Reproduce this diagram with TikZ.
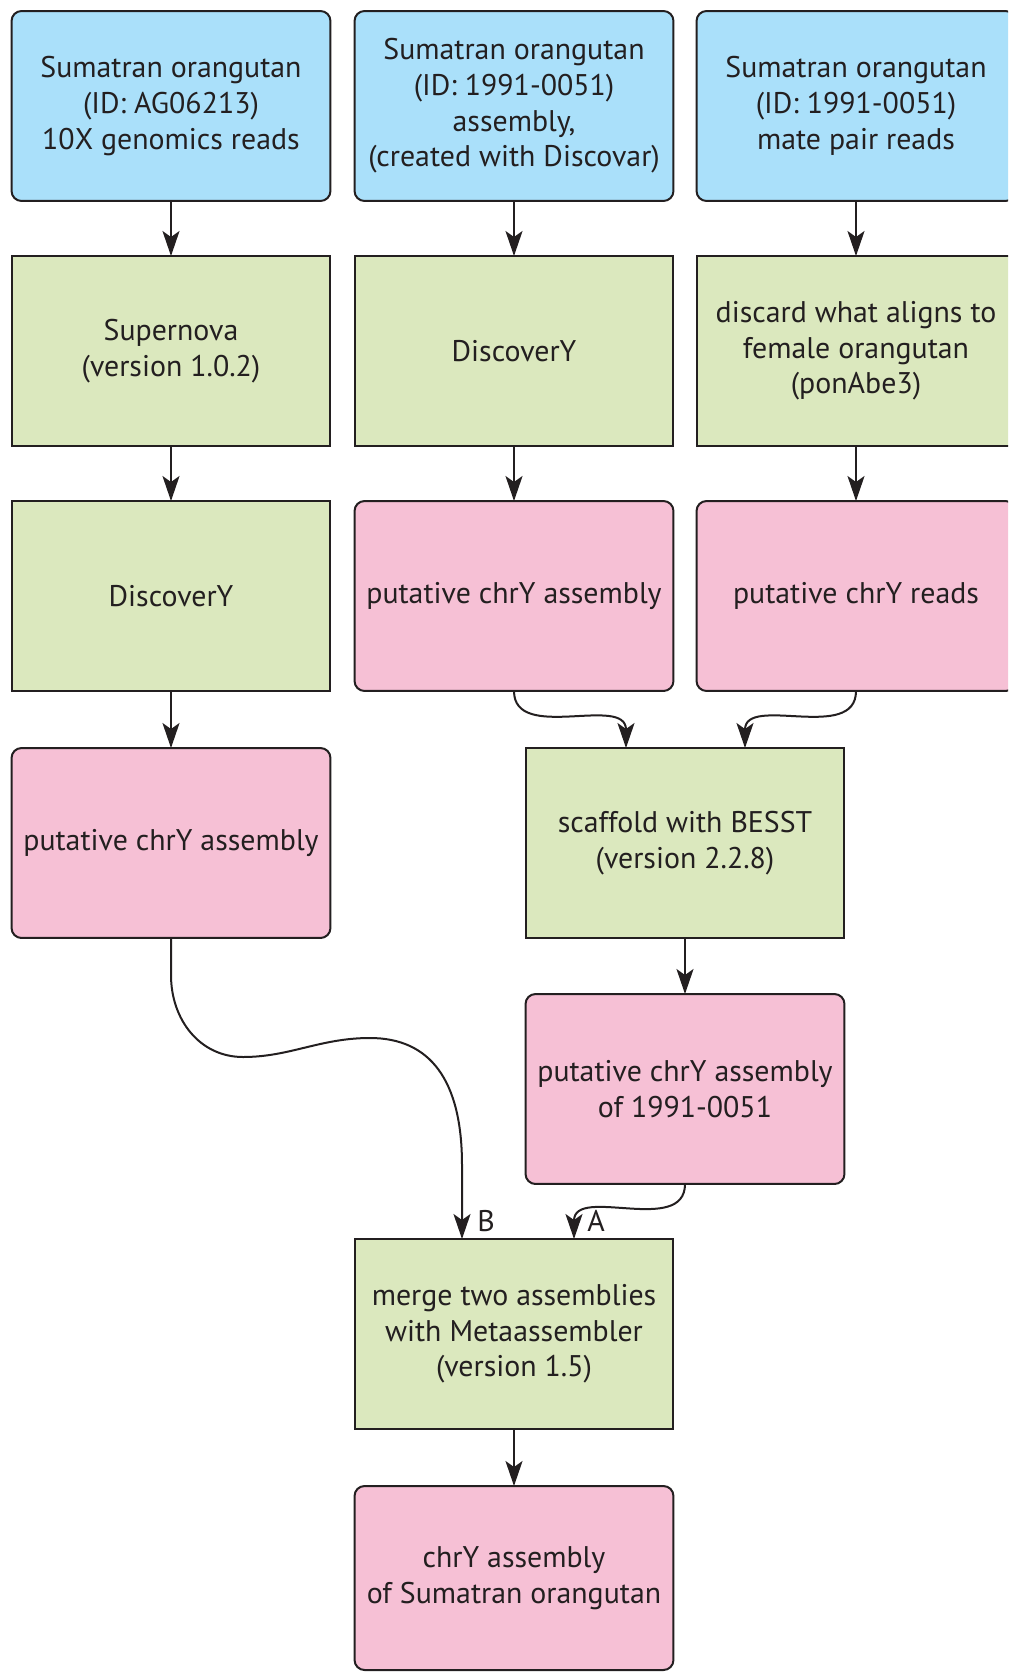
\documentclass[tikz,border=0pt]{standalone}
\usepackage{fontspec}
\setmainfont{PT Sans}
\usepackage{xcolor}
\usetikzlibrary{arrows.meta, calc}

\definecolor{inblue}{RGB}{170,224,250}
\definecolor{stepgreen}{RGB}{219,232,190}
\definecolor{resultpink}{RGB}{246,192,213}
\definecolor{inkblack}{RGB}{35,31,32}

\begin{document}
\begin{tikzpicture}[
  x=0.02cm, y=-0.02cm,
  every node/.style={font=\fontsize{17}{20.3}\selectfont, text=inkblack, align=center},
  box/.style={draw=inkblack, line width=0.04cm, minimum width=6.38cm, minimum height=3.8cm, inner sep=2pt, outer sep=0pt},
  inbox/.style={box, fill=inblue, rounded corners=0.2cm},
  toolbox/.style={box, fill=stepgreen},
  outbox/.style={box, fill=resultpink, rounded corners=0.2cm},
  flow/.style={draw=inkblack, line width=0.04cm, -{Stealth[length=0.5cm, width=0.34cm, inset=0.12cm]}}
]
\useasboundingbox (0,0) rectangle (1008,1673);
\clip (0,0) rectangle (1008,1673);
% input data
\node[inbox] (in1) at (171,106) {Sumatran orangutan\\(ID: AG06213)\\10X genomics reads};
\node[inbox] (in2) at (514,106) {Sumatran orangutan\\(ID: 1991-0051)\\assembly,\\(created with Discovar)};
\node[inbox] (in3) at (856,106) {Sumatran orangutan\\(ID: 1991-0051)\\mate pair reads};
% tools and results
\node[toolbox] (sn) at (171,351) {Supernova\\(version 1.0.2)};
\node[toolbox] (dy2) at (514,351) {DiscoverY};
\node[toolbox] (dc) at (856,351) {discard what aligns to\\female orangutan\\(ponAbe3)};
\node[toolbox] (dy1) at (171,596) {DiscoverY};
\node[outbox] (pa2) at (514,596) {putative chrY assembly};
\node[outbox] (pr) at (856,596) {putative chrY reads};
\node[outbox] (pa1) at (171,843) {putative chrY assembly};
\node[toolbox] (bs) at (685,843) {scaffold with BESST\\(version 2.2.8)};
\node[outbox] (pa3) at (685,1089) {putative chrY assembly\\of 1991-0051};
\node[toolbox] (ma) at (514,1334) {merge two assemblies\\with Metaassembler\\(version 1.5)};
\node[outbox, minimum height=3.68cm] (fin) at (514,1578) {chrY assembly\\of Sumatran orangutan};

\foreach \a/\b in {in1/sn, sn/dy1, dy1/pa1, in2/dy2, dy2/pa2, in3/dc, dc/pr, bs/pa3, ma/fin}
  \draw[flow] (\a.south) -- (\b.north);

% merging arrows
\coordinate (bs-l) at ($(bs.north)+(-59,0)$);
\coordinate (bs-r) at ($(bs.north)+(60,0)$);
\coordinate (ma-a) at ($(ma.north)+(60,0)$);
\coordinate (ma-b) at ($(ma.north)+(-52,0)$);
\draw[flow] (pa2.south) .. controls +(0,52) and +(0,-54) .. (bs-l);
\draw[flow] (pr.south) .. controls +(0,52) and +(0,-54) .. (bs-r);
\draw[flow] (pa3.south) .. controls +(0,52) and +(0,-54) .. (ma-a);
\draw[flow] (pa1.south) -- (171,975) .. controls (171,1020) and (200,1057) .. (243,1057)
  .. controls (290,1057) and (320,1038) .. (370,1038)
  .. controls (430,1038) and (462,1080) .. (462,1165) -- (ma-b);
\node[anchor=south west, inner sep=0pt] (la) at ($(ma-a)+(13,-7)$) {A};
\node[anchor=south west, inner sep=0pt] (lb) at ($(ma-b)+(15,-7)$) {B};
\end{tikzpicture}
\end{document}
